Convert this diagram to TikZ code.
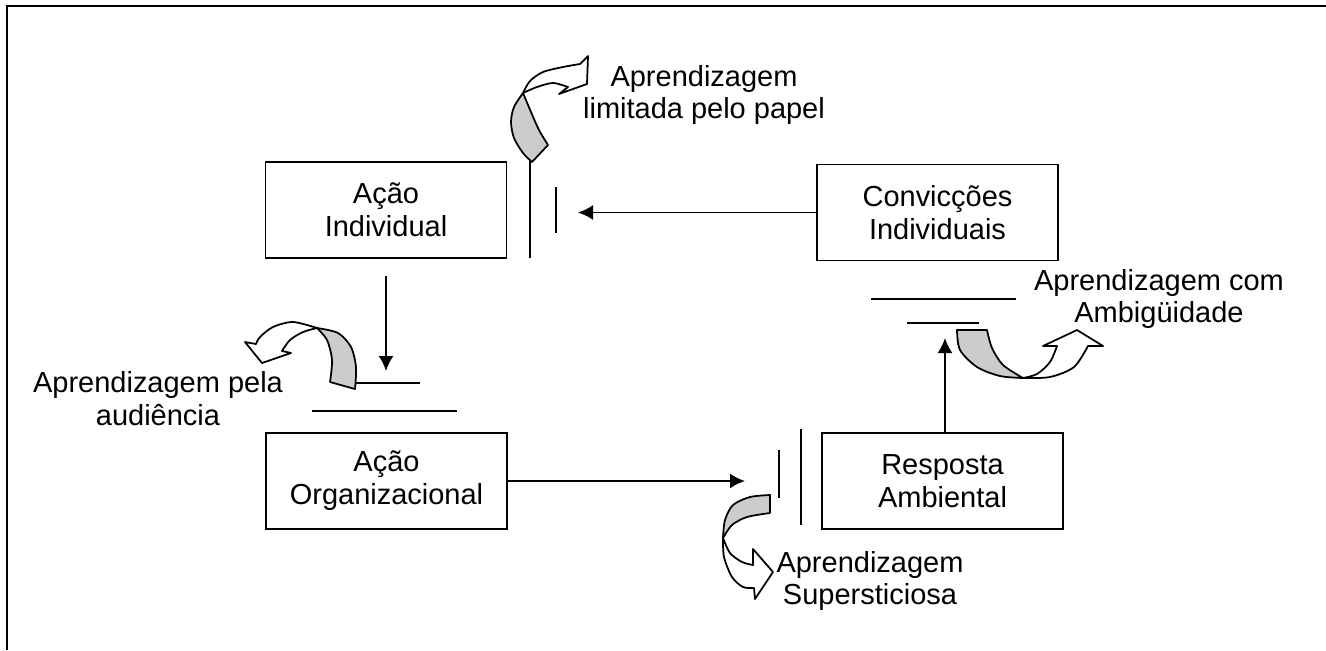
\documentclass[tikz,border=0pt]{standalone}
\usepackage{fontspec}
\setmainfont{Liberation Sans}
\usetikzlibrary{arrows.meta}
\tikzset{
  caixa/.style={draw,line width=1.1pt,minimum width=4.82cm,minimum height=1.92cm,align=center,inner sep=0pt},
  rotulo/.style={align=center,inner sep=0pt},
  barra/.style={line width=1.1pt},
  cinza/.style={draw,line width=1pt,fill=black!20,line join=round},
  branco/.style={draw,line width=1pt,fill=white,line join=round},
}
\begin{document}
\begin{tikzpicture}[>={Latex[length=3mm,width=3mm]},x=0.02cm,y=-0.02cm,font=\fontsize{16.5}{18.7}\selectfont]
\useasboundingbox (0,0) rectangle (1326,650);
% moldura
\draw[line width=1.7pt] (7,650) -- (7,6) -- (1326,6);
% caixas
    \node[caixa] (acaoind) at (386,210) {Ação\\Individual};
    \node[caixa] (conv) at (937.5,212.5) {Convicções\\Individuais};
    \node[caixa] (acaoorg) at (386.5,481) {Ação\\Organizacional};
    \node[caixa] (resp) at (942.5,481) {Resposta\\Ambiental};
% rotulos
    \node[rotulo] (tlim) at (704,95) {Aprendizagem\\limitada pelo papel};
    \node[rotulo] (taud) at (158,399) {Aprendizagem pela\\audiência};
    \node[rotulo] (tamb) at (1159,299) {Aprendizagem com\\Ambigüidade};
    \node[rotulo] (tsup) at (870,581) {Aprendizagem\\Supersticiosa};
% pontas das setas
    \coordinate (plim) at (578,211);
    \coordinate (paud0) at (386,276);
    \coordinate (paud) at (386,371);
    \coordinate (psup) at (745,481);
    \coordinate (pamb) at (945,338);
    \draw[->,line width=1.1pt] (conv.west) -- (conv.west -| plim);
    \draw[->,line width=1.1pt] (paud0) -- (paud);
    \draw[->,line width=1.1pt] (acaoorg.east) -- (acaoorg.east -| psup);
    \draw[->,line width=1.1pt] (resp.north -| pamb) -- (pamb);
% barreiras
    \draw[barra] (530,160) -- (530,258);
    \draw[barra] (556,187) -- (556,233);
    \draw[barra] (355,383) -- (420,383);
    \draw[barra] (312,411) -- (457,411);
    \draw[barra] (779,450) -- (779,498);
    \draw[barra] (801,429) -- (801,525);
    \draw[barra] (871,299) -- (1016,299);
    \draw[barra] (907,323) -- (979,323);
% setas curvas
    % limitada pelo papel
    \filldraw[branco] plot[smooth] coordinates {(523,93) (530,81) (543,72) (563,67) (580,64)} -- (588,56) -- (587,84) -- (559,94) -- (568,87)
      -- plot[smooth] coordinates {(568,87) (553,83) (537,87) (523,93)} -- cycle;
    \filldraw[cinza] plot[smooth] coordinates {(523,93) (514,107) (511,122) (514,138) (523,153) (532,162)} -- (548,145)
      -- plot[smooth] coordinates {(548,145) (539,130) (531,112) (523,93)} -- cycle;
    % audiencia
    \filldraw[branco] plot[smooth] coordinates {(317,328) (293,322) (273,327) (260,337) (256,344)} -- (245,342) -- (262,363) -- (291,353) -- (282,351)
      -- plot[smooth] coordinates {(282,351) (290,340) (303,332) (317,328)} -- cycle;
    \filldraw[cinza] plot[smooth] coordinates {(317,328) (338,333) (351,347) (356,367) (355,389)} -- (330,382)
      -- plot[smooth] coordinates {(330,382) (332,360) (327,340) (317,328)} -- cycle;
    % supersticiosa
    \filldraw[branco] plot[smooth] coordinates {(723,538) (730,553) (742,562) (753,565)} -- (753,549) -- (773,572) -- (755,599) -- (754,588)
      -- plot[smooth] coordinates {(754,588) (743,587) (732,577) (724,557) (723,538)} -- cycle;
    \filldraw[cinza] plot[smooth] coordinates {(770,495) (750,497) (733,505) (725,520) (723,538)}
      -- plot[smooth] coordinates {(723,538) (732,525) (747,517) (770,513)} -- cycle;
    % ambiguidade
    \filldraw[branco] plot[smooth] coordinates {(1023,378) (1050,377) (1074,367) (1088,346)} -- (1103,346) -- (1077,330) -- (1043,346) -- (1057,346)
      -- plot[smooth] coordinates {(1057,346) (1050,362) (1037,374) (1023,378)} -- cycle;
    \filldraw[cinza] plot[smooth] coordinates {(957,330) (960,350) (977,367) (1000,376) (1023,378)}
      -- plot[smooth] coordinates {(1023,378) (1003,365) (992,348) (987,330)} -- cycle;
\end{tikzpicture}
\end{document}
